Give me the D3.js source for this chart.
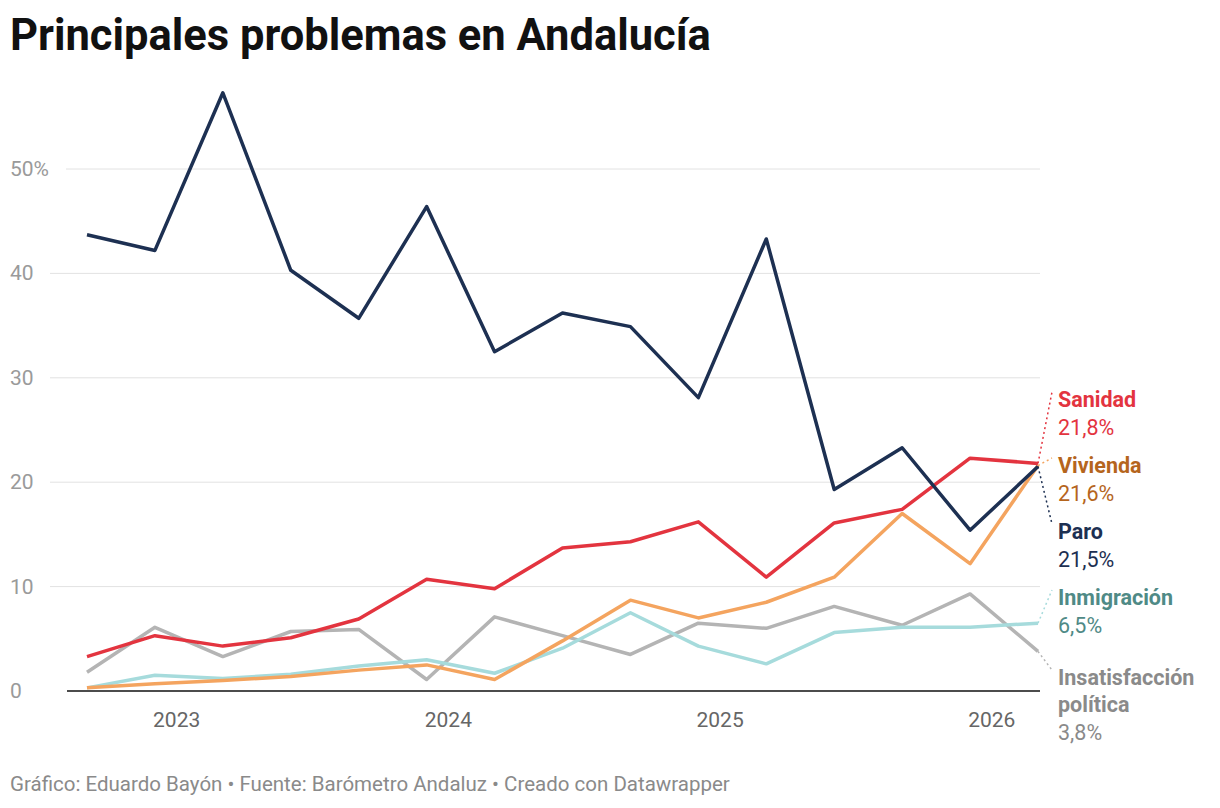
<!DOCTYPE html><html><head><meta charset="utf-8">
<script src="https://cdn.jsdelivr.net/npm/d3@7"></script>
<style>body{margin:0;background:#fff;font-family:Roboto,sans-serif}</style></head><body>
<svg id="c" width="1220" height="808"></svg>
<script>
const dates=[2022.67,2022.92,2023.17,2023.42,2023.67,2023.92,2024.17,2024.42,2024.67,2024.92,2025.17,2025.42,2025.67,2025.92,2026.17];
const paro=[43.7,42.2,57.3,40.3,35.7,46.4,32.5,36.2,34.9,28.1,43.3,19.3,23.3,15.4,21.5];
const sanidad=[3.3,5.3,4.3,5.1,6.9,10.7,9.8,13.7,14.3,16.2,10.9,16.1,17.4,22.3,21.8];
const vivienda=[0.3,0.7,1.0,1.4,2.0,2.5,1.1,4.8,8.7,7.0,8.5,10.9,17.0,12.2,21.6];
const inmigracion=[0.3,1.5,1.2,1.6,2.4,3.0,1.7,4.1,7.5,4.3,2.6,5.6,6.1,6.1,6.5];
const insatisfaccion=[1.8,6.1,3.3,5.7,5.9,1.1,7.1,5.3,3.5,6.5,6.0,8.1,6.3,9.3,3.8];
const yTicks=[0,10,20,30,40,50];
const yTickLabels=["0","10","20","30","40","50%"];
const xTicks=[2023,2024,2025,2026];
const series=[
 {name:["Insatisfacción","política"],vals:insatisfaccion,line:"#b4b4b4",text:"#8a8a8a",label:"3,8%",ly:678},
 {name:["Inmigración"],vals:inmigracion,line:"#a6dbdc",text:"#4f8a86",label:"6,5%",ly:598},
 {name:["Vivienda"],vals:vivienda,line:"#f4a45f",text:"#b5651d",label:"21,6%",ly:466},
 {name:["Sanidad"],vals:sanidad,line:"#e3343f",text:"#e3343f",label:"21,8%",ly:400},
 {name:["Paro"],vals:paro,line:"#1d3052",text:"#1d3052",label:"21,5%",ly:532},
];
const svg=d3.select("#c");
const x=d3.scaleLinear().domain([2022.67,2026.17]).range([87,1038]);
const y=d3.scaleLinear().domain([0,50]).range([691,169]);
svg.append("text").attr("x",10).attr("y",50).attr("font-size",43.5).attr("font-weight",700).attr("fill","#111").text("Principales problemas en Andalucía");
yTicks.forEach((t,i)=>{
 if(t>0)svg.append("line").attr("x1",t==50?66:50).attr("x2",1040).attr("y1",y(t)).attr("y2",y(t)).attr("stroke","#e2e2e2");
 svg.append("text").attr("x",10).attr("y",y(t)+7).attr("font-size",21).attr("fill","#9a9a9a").text(yTickLabels[i]);
});
xTicks.forEach(t=>svg.append("text").attr("x",x(t)).attr("y",727).attr("text-anchor","middle").attr("font-size",21).attr("fill","#666").text(t));
const line=d3.line().x((d,i)=>x(dates[i])).y(d=>y(d));
series.forEach(s=>{
 svg.append("path").attr("d",line(s.vals)).attr("fill","none").attr("stroke",s.line).attr("stroke-width",3.5).attr("stroke-linejoin","round");
});
svg.append("line").attr("x1",67).attr("x2",1040).attr("y1",691).attr("y2",691).attr("stroke","#111").attr("stroke-width",1.5);
series.forEach(s=>{
 const lx=x(dates[14]),lyv=y(s.vals[14]);
 svg.append("line").attr("x1",lx).attr("y1",lyv).attr("x2",1052).attr("y2",s.ly-8).attr("stroke",s.line).attr("stroke-width",1.5).attr("stroke-dasharray","2,3");
 s.name.forEach((n,k)=>svg.append("text").attr("x",1058).attr("y",s.ly+7+k*27).attr("font-size",21.5).attr("font-weight",700).attr("fill",s.text).text(n));
 svg.append("text").attr("x",1058).attr("y",s.ly+35+(s.name.length-1)*27).attr("font-size",21.5).attr("fill",s.text).text(s.label);
});
svg.append("text").attr("x",10).attr("y",791).attr("font-size",20.5).attr("fill","#8a8a8a").text("Gráfico: Eduardo Bayón • Fuente: Barómetro Andaluz • Creado con Datawrapper");
</script></body></html>
